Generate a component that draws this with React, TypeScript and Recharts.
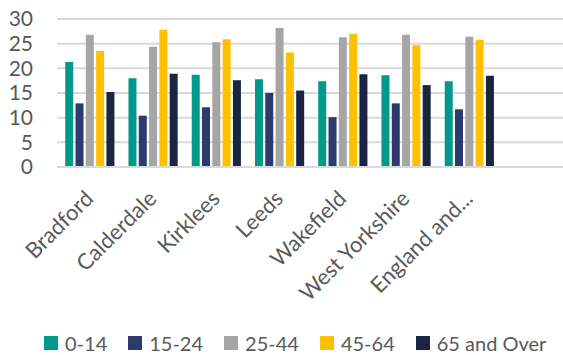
import { BarChart, Bar, XAxis, YAxis, CartesianGrid, Legend } from "recharts";

// Age band shares (%) by district
const districts = ["Bradford", "Calderdale", "Kirklees", "Leeds", "Wakefield", "West Yorkshire", "England and...", ""];
const age0to14 = [21.3, 18.0, 18.7, 17.8, 17.4, 18.6, 17.4, null];
const age15to24 = [12.9, 10.4, 12.1, 15.0, 10.1, 12.9, 11.7, null];
const age25to44 = [26.8, 24.4, 25.3, 28.2, 26.3, 26.8, 26.4, null];
const age45to64 = [23.5, 27.8, 25.9, 23.2, 27.0, 24.7, 25.8, null];
const age65plus = [15.2, 18.9, 17.6, 15.5, 18.8, 16.6, 18.5, null];
const yTicks = [0, 5, 10, 15, 20, 25, 30];

const series = [
  { key: "a0", name: "0-14", values: age0to14, color: "#00998C" },
  { key: "a1", name: "15-24", values: age15to24, color: "#2E3A6D" },
  { key: "a2", name: "25-44", values: age25to44, color: "#A5A5A5" },
  { key: "a3", name: "45-64", values: age45to64, color: "#FFC000" },
  { key: "a4", name: "65 and Over", values: age65plus, color: "#1B2541" },
];

const rows = districts.map((name, i) => {
  const row: Record<string, string | number | null> = { name };
  series.forEach((s) => (row[s.key] = s.values[i]));
  return row;
});

const FONT = "Lato, 'Open Sans', sans-serif";
const TEXT = "#595959";

function SlantedTick({ x, y, payload }: any) {
  return (
    <g transform={`translate(${x + 6},${y + 31})`}>
      <text textAnchor="end" transform="rotate(-45)" fill={TEXT} fontSize={22} fontFamily={FONT}>
        {payload.value}
      </text>
    </g>
  );
}

function LegendRow() {
  return (
    <div
      style={{
        display: "flex",
        height: 30,
        alignItems: "center",
        paddingLeft: 44,
        paddingTop: 6,
        boxSizing: "border-box",
        whiteSpace: "nowrap",
        fontFamily: FONT,
        fontSize: 20,
        lineHeight: "24px",
        color: TEXT,
      }}
    >
      {series.map((s) => (
        <div key={s.key} style={{ display: "flex", alignItems: "center", marginRight: 21, flexShrink: 0 }}>
          <span style={{ width: 14, height: 14, background: s.color, marginRight: 7, display: "inline-block" }} />
          <span>{s.name}</span>
        </div>
      ))}
    </div>
  );
}

export default function App() {
  return (
    <div style={{ position: "absolute", left: 0, top: 0, background: "#fff" }}>
      <BarChart
        width={563}
        height={355}
        data={rows}
        margin={{ top: 19, right: 0, left: 0, bottom: 0 }}
        barCategoryGap="13%"
        barGap={2.3}
        style={{ fontFamily: FONT }}
      >
        <CartesianGrid vertical={false} stroke="#D9D9D9" strokeWidth={2} />
        <XAxis
          dataKey="name"
          interval={0}
          height={158}
          tickLine={false}
          tickSize={0}
          axisLine={{ stroke: "#D9D9D9", strokeWidth: 2 }}
          tick={<SlantedTick />}
        />
        <YAxis
          domain={[0, 30]}
          ticks={yTicks}
          interval={0}
          width={57}
          axisLine={false}
          tickLine={false}
          tickSize={0}
          tickMargin={24}
          tick={{ fill: TEXT, fontSize: 21, fontFamily: FONT }}
        />
        <Legend verticalAlign="bottom" content={<LegendRow />} wrapperStyle={{ left: 0, width: 563 }} />
        {series.map((s) => (
          <Bar key={s.key} dataKey={s.key} name={s.name} fill={s.color} isAnimationActive={false} />
        ))}
      </BarChart>
    </div>
  );
}
